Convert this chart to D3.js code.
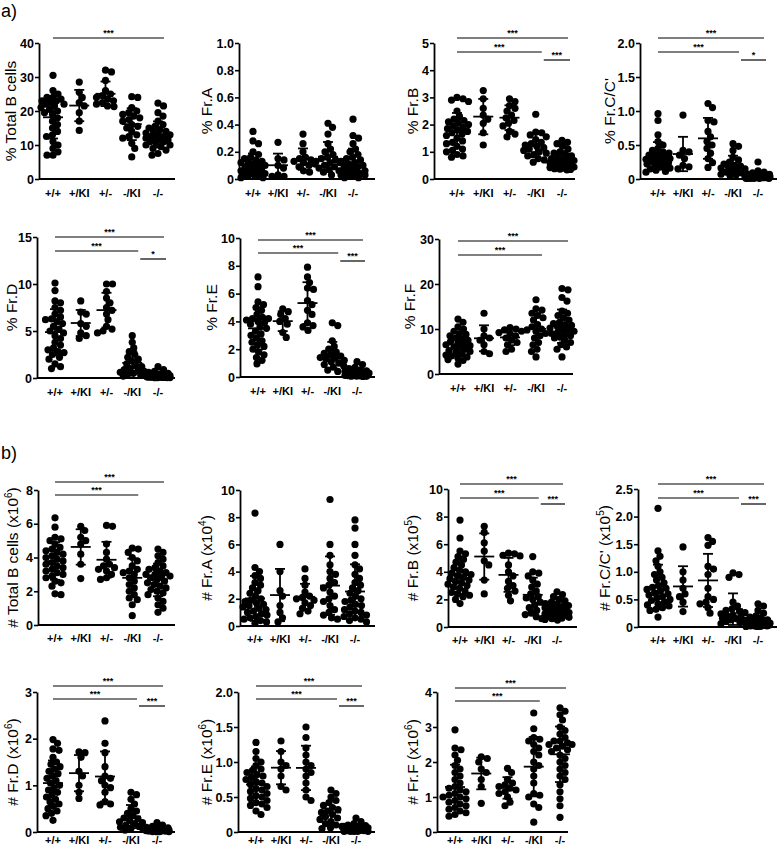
<!DOCTYPE html>
<html>
<head>
<meta charset="utf-8">
<script src="https://cdn.jsdelivr.net/npm/d3@7"></script>
<style>
  body { margin: 0; background: #fff; }
  text { font-family: Arial, "Liberation Sans", sans-serif; }
</style>
</head>
<body>
<div id="fig"></div>
<script>
var width = 778,
    height = 849

// genotypes on the x axis
var genotypes = ["+/+", "+/KI", "+/-", "-/KI", "-/-"]

// a) percentages, one array per genotype
var pctTotalB = [
  [30.5, 26, 25, 24, 24, 23.5, 23, 23, 22.5, 22, 22, 21.5, 21, 20.5, 20, 19.5, 19, 18, 17, 16, 15, 14, 13, 12.5, 11, 10, 9, 8, 7, 7],
  [28.5, 25.5, 24, 22.5, 21.5, 19.5, 17, 14.3],
  [32, 31.5, 29, 26, 25, 24.5, 24, 23.5, 23, 22.5, 22, 21.5, 21.3],
  [24.2, 24, 21, 20, 19.5, 19, 18.5, 18, 17.5, 17, 16, 15.5, 15, 14, 13, 12.5, 12, 10.5, 9, 6.5],
  [22.3, 21.5, 19.5, 18.5, 17, 16, 15.5, 15, 14.5, 14, 14, 13.5, 13, 13, 12.5, 12.5, 12, 12, 11.5, 11.5, 11, 11, 10.5, 10, 10, 9.5, 9, 8.5, 7.5, 7]
]
var pctFrA = [
  [0.35, 0.28, 0.26, 0.2, 0.18, 0.16, 0.15, 0.14, 0.13, 0.12, 0.12, 0.11, 0.1, 0.1, 0.09, 0.08, 0.08, 0.07, 0.06, 0.06, 0.05, 0.05, 0.04, 0.04, 0.03, 0.03, 0.02, 0.02, 0.01, 0.01],
  [0.27, 0.15, 0.14, 0.1, 0.08, 0.03, 0.02, 0.02],
  [0.33, 0.26, 0.2, 0.16, 0.15, 0.14, 0.13, 0.12, 0.11, 0.1, 0.09, 0.06, 0.05],
  [0.41, 0.38, 0.33, 0.26, 0.22, 0.2, 0.18, 0.16, 0.15, 0.14, 0.13, 0.12, 0.12, 0.1, 0.09, 0.08, 0.07, 0.06, 0.05, 0.03],
  [0.44, 0.32, 0.3, 0.26, 0.22, 0.2, 0.18, 0.16, 0.15, 0.14, 0.13, 0.12, 0.11, 0.1, 0.1, 0.09, 0.08, 0.07, 0.06, 0.06, 0.05, 0.05, 0.04, 0.04, 0.03, 0.03, 0.02, 0.02, 0.01, 0.01]
]
var pctFrB = [
  [3.0, 2.95, 2.9, 2.85, 2.5, 2.3, 2.2, 2.15, 2.1, 2.05, 2.0, 1.95, 1.9, 1.85, 1.8, 1.75, 1.7, 1.65, 1.6, 1.5, 1.4, 1.35, 1.3, 1.2, 1.1, 1.05, 1.0, 0.9, 0.85, 0.8],
  [3.25, 2.95, 2.6, 2.35, 2.2, 2.05, 1.7, 1.25],
  [2.95, 2.85, 2.7, 2.6, 2.5, 2.35, 2.25, 2.15, 2.05, 1.95, 1.75, 1.65, 1.55],
  [2.38, 1.72, 1.7, 1.62, 1.55, 1.45, 1.35, 1.3, 1.25, 1.2, 1.15, 1.1, 1.05, 1.0, 0.95, 0.9, 0.85, 0.75, 0.7, 0.62],
  [1.42, 1.35, 1.3, 1.2, 1.1, 1.0, 0.95, 0.9, 0.85, 0.8, 0.75, 0.72, 0.7, 0.68, 0.65, 0.62, 0.6, 0.58, 0.55, 0.52, 0.5, 0.48, 0.46, 0.44, 0.42, 0.4, 0.38, 0.36, 0.35, 0.33]
]
var pctFrC = [
  [0.96, 0.86, 0.65, 0.55, 0.5, 0.45, 0.42, 0.4, 0.38, 0.36, 0.35, 0.34, 0.33, 0.32, 0.3, 0.29, 0.28, 0.27, 0.26, 0.25, 0.24, 0.22, 0.2, 0.19, 0.18, 0.16, 0.15, 0.13, 0.11, 0.1],
  [0.94, 0.42, 0.4, 0.35, 0.3, 0.2, 0.18, 0.15],
  [1.11, 1.05, 0.86, 0.84, 0.7, 0.62, 0.55, 0.5, 0.45, 0.38, 0.3, 0.24, 0.17],
  [0.52, 0.48, 0.42, 0.32, 0.28, 0.25, 0.22, 0.2, 0.19, 0.18, 0.16, 0.15, 0.14, 0.12, 0.1, 0.09, 0.07, 0.06, 0.05, 0.03],
  [0.25, 0.12, 0.1, 0.09, 0.08, 0.07, 0.07, 0.06, 0.06, 0.05, 0.05, 0.05, 0.04, 0.04, 0.04, 0.03, 0.03, 0.03, 0.03, 0.02, 0.02, 0.02, 0.02, 0.02, 0.01, 0.01, 0.01, 0.01, 0.01, 0.01]
]
var pctFrD = [
  [10.1, 9.3, 8.2, 8.0, 7.5, 7.2, 6.8, 6.5, 6.3, 6.2, 6.0, 5.8, 5.5, 5.2, 5.0, 4.8, 4.5, 4.2, 3.8, 3.5, 3.2, 3.0, 2.8, 2.7, 2.5, 2.2, 2.0, 1.5, 1.2, 1.0],
  [8.2, 7.0, 6.8, 5.8, 5.5, 4.8, 4.5, 4.2],
  [10.0, 10.0, 9.2, 8.5, 8.0, 7.5, 7.2, 6.8, 6.2, 5.5, 5.2, 5.0, 4.8],
  [4.5, 3.8, 3.2, 2.8, 2.5, 2.2, 2.0, 1.8, 1.5, 1.3, 1.2, 1.0, 0.9, 0.8, 0.7, 0.6, 0.5, 0.4, 0.3, 0.2],
  [1.2, 0.9, 0.7, 0.6, 0.5, 0.45, 0.4, 0.35, 0.3, 0.3, 0.25, 0.25, 0.2, 0.2, 0.2, 0.15, 0.15, 0.15, 0.1, 0.1, 0.1, 0.1, 0.08, 0.08, 0.06, 0.06, 0.05, 0.05, 0.04, 0.03]
]
var pctFrE = [
  [7.2, 6.5, 5.4, 5.2, 5.0, 4.8, 4.5, 4.3, 4.2, 4.2, 4.1, 4.0, 3.9, 3.8, 3.6, 3.5, 3.3, 3.1, 3.0, 2.8, 2.6, 2.5, 2.3, 2.2, 2.0, 1.8, 1.6, 1.4, 1.2, 0.95],
  [4.9, 4.7, 4.5, 4.2, 4.0, 3.8, 3.2, 2.85],
  [7.9, 7.2, 6.8, 6.4, 6.3, 5.5, 5.2, 4.8, 4.5, 3.9, 3.7, 3.6, 3.35],
  [3.9, 3.7, 2.6, 2.2, 2.0, 1.8, 1.7, 1.6, 1.5, 1.4, 1.35, 1.3, 1.2, 1.1, 1.0, 0.9, 0.8, 0.7, 0.5, 0.4],
  [1.1, 0.9, 0.7, 0.6, 0.5, 0.45, 0.4, 0.38, 0.35, 0.32, 0.3, 0.28, 0.26, 0.25, 0.24, 0.22, 0.2, 0.2, 0.18, 0.16, 0.15, 0.14, 0.12, 0.1, 0.1, 0.08, 0.07, 0.06, 0.05, 0.04]
]
var pctFrF = [
  [12.2, 11.5, 10.5, 10, 9.5, 9, 8.8, 8.5, 8, 7.8, 7.5, 7.2, 7, 6.8, 6.5, 6.3, 6, 5.8, 5.5, 5.2, 5, 4.8, 4.5, 4.2, 4, 3.8, 3.5, 3.2, 3, 2.2],
  [13.5, 10, 8.5, 8, 7.5, 6.5, 5, 4.5],
  [10.3, 10, 9.8, 9.5, 9.2, 9, 8.5, 8, 7.5, 7, 6.5, 5.5, 5],
  [16.5, 14.5, 14.2, 13.5, 13, 12.5, 12, 11, 10.5, 10, 9.8, 9.5, 9, 8.5, 8, 7, 6.5, 5.5, 5, 3.8],
  [19, 18.7, 17, 16.2, 14, 13.5, 13, 12.5, 12, 11.5, 11.2, 11, 10.8, 10.5, 10.2, 10, 9.8, 9.5, 9.2, 9, 8.8, 8.5, 8.2, 8, 7.5, 7, 6.5, 6, 5.5, 3.8]
]

// b) absolute numbers
var numTotalB = [
  [6.35, 5.8, 5.2, 5.1, 5.0, 4.8, 4.6, 4.5, 4.4, 4.3, 4.2, 4.1, 4.0, 3.9, 3.8, 3.7, 3.6, 3.5, 3.4, 3.3, 3.2, 3.1, 3.0, 2.9, 2.8, 2.6, 2.5, 2.3, 1.85, 1.8],
  [5.85, 5.6, 5.2, 5.0, 4.8, 4.2, 3.6, 2.75],
  [5.9, 5.85, 4.8, 4.3, 3.9, 3.6, 3.5, 3.4, 3.3, 3.2, 3.0, 2.8, 2.7],
  [4.55, 4.5, 4.3, 4.0, 3.8, 3.5, 3.3, 3.2, 3.1, 3.0, 2.8, 2.6, 2.4, 2.2, 2.0, 1.8, 1.6, 1.5, 1.2, 0.55],
  [4.5, 4.3, 4.1, 3.9, 3.7, 3.5, 3.4, 3.3, 3.2, 3.1, 3.0, 3.0, 2.9, 2.9, 2.8, 2.7, 2.6, 2.5, 2.4, 2.3, 2.2, 2.1, 2.0, 1.9, 1.8, 1.6, 1.4, 1.2, 1.0, 0.75]
]
var numFrA = [
  [8.3, 4.3, 4.0, 3.7, 3.5, 3.2, 3.0, 2.8, 2.6, 2.4, 2.2, 2.0, 1.9, 1.8, 1.7, 1.6, 1.5, 1.4, 1.3, 1.2, 1.1, 1.0, 0.9, 0.8, 0.7, 0.6, 0.5, 0.4, 0.3, 0.2],
  [6.0, 4.0, 2.6, 2.2, 1.5, 1.0, 0.6, 0.3],
  [4.2, 3.5, 3.0, 2.5, 2.2, 2.1, 2.0, 1.9, 1.7, 1.5, 1.3, 1.1, 0.9],
  [9.3, 6.0, 5.2, 4.5, 4.0, 3.8, 3.5, 3.2, 3.0, 2.8, 2.5, 2.2, 2.0, 1.8, 1.5, 1.2, 1.0, 0.8, 0.6, 0.5],
  [7.8, 7.2, 6.0, 5.2, 4.5, 4.2, 3.8, 3.5, 3.2, 3.0, 2.8, 2.6, 2.4, 2.2, 2.0, 1.9, 1.8, 1.6, 1.5, 1.4, 1.2, 1.1, 1.0, 0.9, 0.8, 0.7, 0.6, 0.5, 0.4, 0.3]
]
var numFrB = [
  [7.75, 6.45, 5.5, 5.3, 5.1, 4.9, 4.7, 4.5, 4.3, 4.1, 4.0, 3.9, 3.8, 3.7, 3.6, 3.5, 3.4, 3.3, 3.2, 3.1, 3.0, 2.9, 2.8, 2.6, 2.5, 2.4, 2.3, 2.2, 2.0, 1.7],
  [7.3, 6.85, 6.1, 5.5, 4.8, 4.5, 3.4, 2.4],
  [5.35, 5.3, 5.2, 5.15, 4.5, 4.0, 3.7, 3.3, 3.0, 2.8, 2.6, 2.3, 1.9],
  [5.1, 4.0, 3.9, 3.7, 3.4, 3.1, 2.9, 2.6, 2.4, 2.2, 2.1, 2.0, 1.8, 1.6, 1.4, 1.2, 1.0, 0.9, 0.75, 0.6],
  [2.55, 2.35, 2.2, 2.0, 1.9, 1.8, 1.7, 1.6, 1.55, 1.5, 1.45, 1.4, 1.35, 1.3, 1.25, 1.2, 1.15, 1.1, 1.05, 1.0, 0.95, 0.9, 0.85, 0.8, 0.75, 0.7, 0.65, 0.6, 0.55, 0.5]
]
var numFrC = [
  [2.15, 1.38, 1.28, 1.2, 1.1, 1.0, 0.95, 0.9, 0.85, 0.8, 0.75, 0.72, 0.7, 0.68, 0.65, 0.62, 0.6, 0.58, 0.55, 0.53, 0.5, 0.48, 0.45, 0.42, 0.4, 0.38, 0.35, 0.32, 0.3, 0.18],
  [1.45, 1.0, 0.85, 0.7, 0.6, 0.55, 0.45, 0.28],
  [1.62, 1.55, 1.48, 1.1, 1.05, 0.95, 0.7, 0.55, 0.5, 0.45, 0.42, 0.35, 0.25],
  [0.98, 0.95, 0.9, 0.45, 0.38, 0.33, 0.3, 0.28, 0.26, 0.24, 0.22, 0.2, 0.18, 0.16, 0.15, 0.13, 0.11, 0.1, 0.08, 0.06],
  [0.42, 0.38, 0.3, 0.25, 0.2, 0.18, 0.15, 0.13, 0.12, 0.1, 0.09, 0.08, 0.07, 0.07, 0.06, 0.06, 0.05, 0.05, 0.04, 0.04, 0.04, 0.03, 0.03, 0.03, 0.02, 0.02, 0.02, 0.01, 0.01, 0.01]
]
var numFrD = [
  [1.98, 1.9, 1.78, 1.75, 1.6, 1.5, 1.45, 1.4, 1.35, 1.3, 1.25, 1.2, 1.15, 1.1, 1.05, 1.0, 0.95, 0.9, 0.85, 0.8, 0.75, 0.7, 0.65, 0.6, 0.55, 0.5, 0.45, 0.4, 0.35, 0.25],
  [1.72, 1.7, 1.6, 1.3, 1.2, 1.0, 0.85, 0.72],
  [2.38, 1.9, 1.7, 1.4, 1.2, 1.15, 1.1, 1.0, 0.95, 0.85, 0.65, 0.6, 0.58],
  [0.85, 0.8, 0.7, 0.6, 0.5, 0.45, 0.4, 0.35, 0.3, 0.28, 0.25, 0.22, 0.2, 0.18, 0.15, 0.12, 0.1, 0.08, 0.06, 0.04],
  [0.2, 0.15, 0.12, 0.1, 0.09, 0.08, 0.08, 0.07, 0.07, 0.06, 0.06, 0.05, 0.05, 0.05, 0.04, 0.04, 0.04, 0.03, 0.03, 0.03, 0.03, 0.02, 0.02, 0.02, 0.02, 0.01, 0.01, 0.01, 0.01, 0.01]
]
var numFrE = [
  [1.28, 1.15, 1.05, 1.0, 0.95, 0.9, 0.88, 0.85, 0.82, 0.8, 0.78, 0.75, 0.72, 0.7, 0.68, 0.65, 0.62, 0.6, 0.58, 0.55, 0.52, 0.5, 0.48, 0.45, 0.42, 0.4, 0.38, 0.35, 0.3, 0.25],
  [1.3, 1.15, 1.0, 0.95, 0.9, 0.8, 0.65, 0.6],
  [1.5, 1.35, 1.2, 1.1, 1.0, 0.95, 0.9, 0.85, 0.8, 0.7, 0.6, 0.5, 0.45],
  [0.6, 0.55, 0.5, 0.45, 0.42, 0.38, 0.35, 0.32, 0.3, 0.28, 0.25, 0.22, 0.2, 0.18, 0.15, 0.12, 0.1, 0.08, 0.06, 0.05],
  [0.2, 0.15, 0.12, 0.1, 0.09, 0.08, 0.08, 0.07, 0.07, 0.06, 0.06, 0.05, 0.05, 0.05, 0.04, 0.04, 0.04, 0.03, 0.03, 0.03, 0.03, 0.02, 0.02, 0.02, 0.02, 0.01, 0.01, 0.01, 0.01, 0.01]
]
var numFrF = [
  [2.92, 2.4, 2.35, 2.2, 2.05, 1.9, 1.8, 1.7, 1.6, 1.5, 1.4, 1.3, 1.25, 1.2, 1.15, 1.1, 1.05, 1.0, 1.0, 0.95, 0.9, 0.85, 0.8, 0.75, 0.7, 0.65, 0.6, 0.55, 0.5, 0.45],
  [2.15, 2.1, 2.0, 1.8, 1.7, 1.5, 1.3, 0.82],
  [1.82, 1.7, 1.5, 1.4, 1.35, 1.3, 1.25, 1.2, 1.15, 1.1, 1.0, 0.85, 0.75],
  [3.4, 2.95, 2.7, 2.65, 2.6, 2.5, 2.4, 2.3, 2.2, 2.0, 1.9, 1.8, 1.6, 1.4, 1.1, 1.05, 1.0, 0.8, 0.7, 0.28],
  [3.55, 3.45, 3.35, 3.2, 3.0, 2.9, 2.8, 2.7, 2.6, 2.6, 2.55, 2.5, 2.5, 2.45, 2.4, 2.35, 2.3, 2.2, 2.1, 2.0, 1.9, 1.8, 1.7, 1.6, 1.5, 1.35, 1.15, 0.95, 0.75, 0.42]
]

// panel layout: axis x, first/last genotype x, axis end, plot top/bottom, title x
// sig = [from, to, stars, line y]
var panels = [
  {vals: pctTotalB, title: "% Total B cells", ticks: [0, 10, 20, 30, 40], x0: 39, c0: 53, c4: 158, x1: 175, top: 43, bottom: 179, lx: 11, lab: 14,
   sig: [[0, 4, "***", 38]]},
  {vals: pctFrA, title: "% Fr.A", ticks: [0, 0.2, 0.4, 0.6, 0.8, 1.0], x0: 239, c0: 253, c4: 353, x1: 375, top: 43, bottom: 179, lx: 207, lab: 14,
   sig: []},
  {vals: pctFrB, title: "% Fr.B", ticks: [0, 1, 2, 3, 4, 5], x0: 434, c0: 457, c4: 562, x1: 575, top: 43, bottom: 179, lx: 413, lab: 14,
   sig: [[0, 4, "***", 38], [0, 3, "***", 52], [3, 4, "***", 60]]},
  {vals: pctFrC, title: "% Fr.C/C'", ticks: [0, 0.5, 1.0, 1.5, 2.0], x0: 640, c0: 658, c4: 758, x1: 777, top: 43, bottom: 179, lx: 610, lab: 14,
   sig: [[0, 4, "***", 38], [0, 3, "***", 52], [3, 4, "*", 60]]},
  {vals: pctFrD, title: "% Fr.D", ticks: [0, 5, 10, 15], x0: 37, c0: 55, c4: 158, x1: 175, top: 237, bottom: 378, lx: 12, lab: 14,
   sig: [[0, 4, "***", 237], [0, 3, "***", 251], [3, 4, "*", 259]]},
  {vals: pctFrE, title: "% Fr.E", ticks: [0, 2, 4, 6, 8, 10], x0: 240, c0: 258, c4: 357, x1: 375, top: 238, bottom: 377, lx: 212, lab: 14,
   sig: [[0, 4, "***", 240], [0, 3, "***", 253], [3, 4, "***", 261]]},
  {vals: pctFrF, title: "% Fr.F", ticks: [0, 10, 20, 30], x0: 439, c0: 458, c4: 562, x1: 573, top: 239, bottom: 374, lx: 410, lab: 14,
   sig: [[0, 4, "***", 241], [0, 3, "***", 255]]},
  {vals: numTotalB, title: "# Total B cells (x10", exp: "6", ticks: [0, 2, 4, 6, 8], x0: 38, c0: 55, c4: 158, x1: 175, top: 490, bottom: 625, lx: 13, lab: 13,
   sig: [[0, 4, "***", 482], [0, 3, "***", 495]]},
  {vals: numFrA, title: "# Fr.A (x10", exp: "4", ticks: [0, 2, 4, 6, 8, 10], x0: 240, c0: 255, c4: 355, x1: 375, top: 490, bottom: 626, lx: 207, lab: 13,
   sig: []},
  {vals: numFrB, title: "# Fr.B (x10", exp: "5", ticks: [0, 2, 4, 6, 8, 10], x0: 448, c0: 460, c4: 557, x1: 577, top: 489, bottom: 627, lx: 413, lab: 13,
   sig: [[0, 4, "***", 484], [0, 3, "***", 498], [3, 4, "***", 504]]},
  {vals: numFrC, title: "# Fr.C/C' (x10", exp: "5", ticks: [0, 0.5, 1.0, 1.5, 2.0, 2.5], x0: 638, c0: 658, c4: 758, x1: 777, top: 489, bottom: 627, lx: 605, lab: 13,
   sig: [[0, 4, "***", 484], [0, 3, "***", 498], [3, 4, "***", 504]]},
  {vals: numFrD, title: "# Fr.D (x10", exp: "6", ticks: [0, 1, 2, 3], x0: 37, c0: 53, c4: 157, x1: 175, top: 692, bottom: 832, lx: 13, lab: 8,
   sig: [[0, 4, "***", 686], [0, 3, "***", 699], [3, 4, "***", 706]]},
  {vals: numFrE, title: "# Fr.E (x10", exp: "6", ticks: [0, 0.5, 1.0, 1.5, 2.0], x0: 238, c0: 256, c4: 356, x1: 375, top: 692, bottom: 832, lx: 207, lab: 8,
   sig: [[0, 4, "***", 686], [0, 3, "***", 699], [3, 4, "***", 706]]},
  {vals: numFrF, title: "# Fr.F (x10", exp: "6", ticks: [0, 1, 2, 3, 4], x0: 437, c0: 455, c4: 560, x1: 568, top: 692, bottom: 832, lx: 413, lab: 8,
   sig: [[0, 4, "***", 688], [0, 3, "***", 701]]}
]

var R = 3.6,       // dot radius
    MIND = 5.8,    // allowed centre distance before dots count as overlapping
    SPREAD = 12    // max horizontal spread of a swarm

var svg = d3.select('#fig')
  .append('svg')
  .attr('width', width)
  .attr('height', height)

svg.append('text').attr('x', 1).attr('y', 17).attr('font-size', 18).text('a)')
svg.append('text').attr('x', 1).attr('y', 459).attr('font-size', 18).text('b)')

// simple beeswarm: place highest values first, nearest free offset to the centre
function swarm(vals, y) {
  var placed = []
  vals.slice().sort(function (a, b) { return b - a }).forEach(function (v) {
    var py = y(v), best = 0, bestD = -1
    for (var k = 0; k <= SPREAD * 4; k++) {
      var off = (k % 2 ? 1 : -1) * Math.ceil(k / 2) * 0.5
      var dmin = Infinity
      placed.forEach(function (p) {
        var d = Math.hypot(p.dx - off, p.py - py)
        if (d < dmin) dmin = d
      })
      if (dmin >= MIND) { best = off; bestD = dmin; break }
      if (dmin > bestD) { bestD = dmin; best = off }
    }
    placed.push({v: v, py: py, dx: best})
  })
  return placed
}

function tickFmt(ticks) {
  var dec = ticks.some(function (t) { return t % 1 !== 0 })
  return function (d) { return d === 0 ? '0' : (dec ? d3.format('.1f')(d) : d3.format('d')(d)) }
}

panels.forEach(function (p) {
  var g = svg.append('g')
  var y = d3.scaleLinear().domain([0, p.ticks[p.ticks.length - 1]]).range([p.bottom, p.top])
  var x = d3.scalePoint().domain(genotypes).range([p.c0, p.c4])

  // y axis
  var ax = g.append('g')
    .attr('transform', 'translate(' + p.x0 + ',0)')
    .call(d3.axisLeft(y).tickValues(p.ticks).tickSize(4).tickSizeOuter(0).tickFormat(tickFmt(p.ticks)))
  ax.select('.domain').attr('stroke-width', 1.8)
  ax.selectAll('.tick line').attr('stroke-width', 1.6)
  ax.selectAll('.tick text')
    .attr('font-size', 12.5)
    .attr('font-weight', 'bold')
    .attr('font-family', 'Arial, "Liberation Sans", sans-serif')
    .attr('x', -5)

  // x axis line and genotype labels
  g.append('line')
    .attr('x1', p.x0).attr('x2', p.x1)
    .attr('y1', p.bottom).attr('y2', p.bottom)
    .attr('stroke', '#000').attr('stroke-width', 1.8)
  g.selectAll('.glab')
    .data(genotypes)
    .enter().append('text')
    .attr('class', 'glab')
    .attr('x', function (d) { return x(d) })
    .attr('y', p.bottom + p.lab + 4)
    .attr('text-anchor', 'middle')
    .attr('font-size', 11)
    .attr('font-weight', 'bold')
    .text(function (d) { return d })

  // axis title
  var t = g.append('text')
    .attr('transform', 'translate(' + p.lx + ',' + ((p.top + p.bottom) / 2) + ')rotate(-90)')
    .attr('dy', '0.35em')
    .attr('text-anchor', 'middle')
    .attr('font-size', 15.5)
  t.append('tspan').text(p.title)
  if (p.exp) {
    t.append('tspan').attr('dy', -6).attr('font-size', 10).text(p.exp)
    t.append('tspan').attr('dy', 6).text(')')
  }

  // dots, mean and SD for each genotype
  p.vals.forEach(function (vals, i) {
    var cx = x(genotypes[i])
    g.selectAll(null)
      .data(swarm(vals, y))
      .enter().append('circle')
      .attr('cx', function (d) { return cx + d.dx })
      .attr('cy', function (d) { return d.py })
      .attr('r', R)
      .attr('fill', '#000')

    var m = d3.mean(vals), sd = d3.deviation(vals)
    var lo = Math.max(0, m - sd), hi = m + sd
    var s = g.append('g').attr('stroke', '#000').attr('stroke-width', 1.8)
    s.append('line').attr('x1', cx - 10).attr('x2', cx + 10).attr('y1', y(m)).attr('y2', y(m))
    s.append('line').attr('x1', cx).attr('x2', cx).attr('y1', y(lo)).attr('y2', y(hi))
    s.append('line').attr('x1', cx - 5).attr('x2', cx + 5).attr('y1', y(hi)).attr('y2', y(hi))
    s.append('line').attr('x1', cx - 5).attr('x2', cx + 5).attr('y1', y(lo)).attr('y2', y(lo))
  })

  // significance bars
  p.sig.forEach(function (s) {
    var xa = x(genotypes[s[0]]), xb = x(genotypes[s[1]])
    if (s[0] === 3) { xa += 8; xb += 8 } else { xb += 6 }
    g.append('line')
      .attr('x1', xa).attr('x2', xb)
      .attr('y1', s[3]).attr('y2', s[3])
      .attr('stroke', '#000').attr('stroke-width', 1.2)
    g.append('text')
      .attr('x', (xa + xb) / 2)
      .attr('y', s[3] - 2)
      .attr('text-anchor', 'middle')
      .attr('font-size', 9)
      .attr('font-weight', 'bold')
      .text(s[2])
  })
})
</script>
</body>
</html>
